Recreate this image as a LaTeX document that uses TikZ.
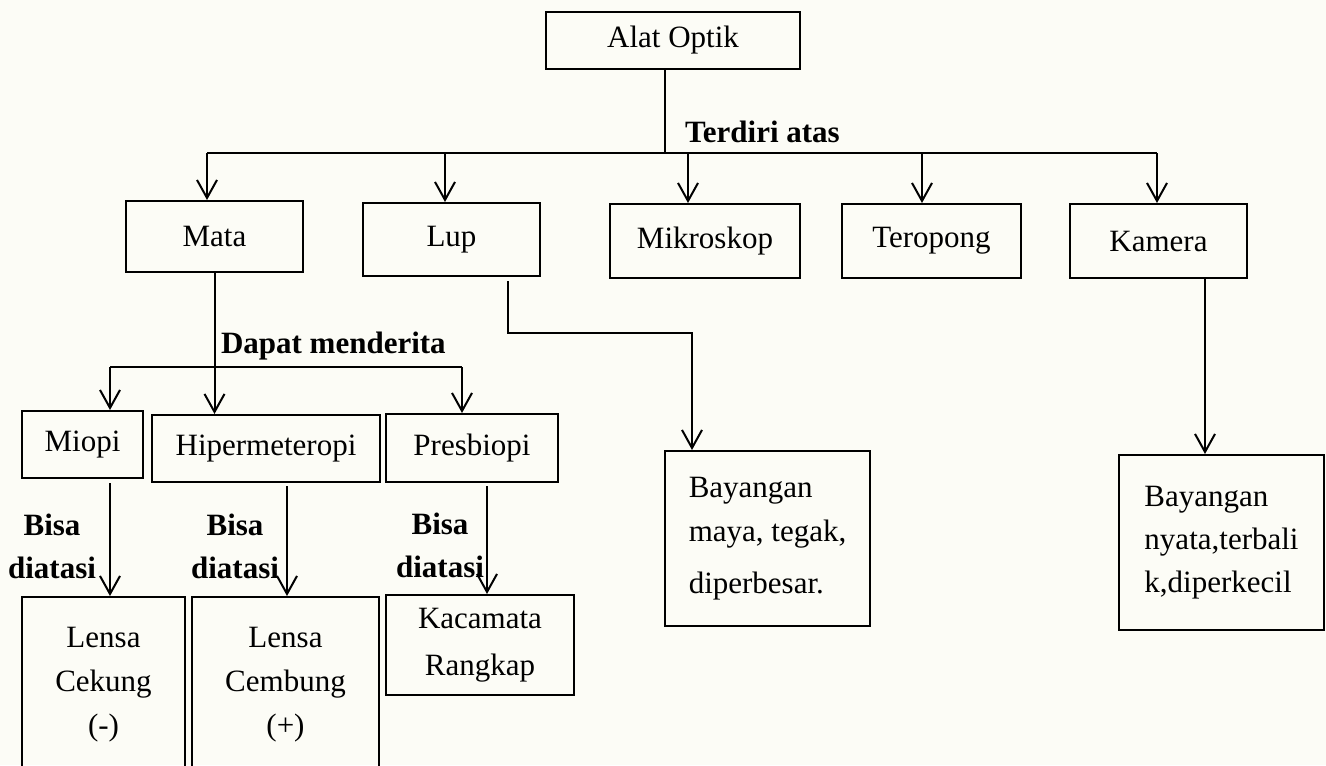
\documentclass[tikz,border=0pt]{standalone}
\usepackage{fontspec}
\setmainfont{Liberation Serif}
\usetikzlibrary{arrows.meta}
\definecolor{paper}{RGB}{252,252,246}

\begin{document}
\begin{tikzpicture}[x=0.5pt,y=-0.5pt,line width=1pt,
    font=\fontsize{15.5}{22}\selectfont,
    box/.style={draw,inner sep=0pt,align=center},
    lbl/.style={font=\fontsize{15.5}{21.5}\selectfont\bfseries,inner sep=0pt,align=center},
    arr/.style={-{Straight Barb[length=9pt,width=10pt]}}]
  \fill[paper] (0,0) rectangle (1326,765);
  \clip (0,0) rectangle (1326,765);

  % alat optik and what it consists of
  \node[box,minimum width=127pt,minimum height=28.5pt] (optik) at (673,40.5) {Alat Optik};
  \node[box,minimum width=88.5pt,minimum height=35.5pt] (mata) at (214.5,236.5) {Mata};
  \node[box,minimum width=88.5pt,minimum height=36.5pt] (lup) at (451.5,239.5) {Lup};
  \node[box,minimum width=95pt,minimum height=37pt] (mikro) at (705,241) {Mikroskop};
  \node[box,minimum width=89.5pt,minimum height=37pt] (teropong) at (931.5,241) {Teropong};
  \node[box,minimum width=88.5pt,minimum height=37pt] (kamera) at (1158.5,241) {Kamera};

  \coordinate (tap) at (665,153);
  \coordinate (busL) at (207,153);
  \coordinate (busR) at (1157,153);
  \draw (optik.south -| tap) -- (tap);
  \draw (busL) -- (busR);
  \foreach \px/\n in {207/mata,445/lup,688/mikro,922/teropong,1157/kamera}{
    \coordinate (to\n) at (\px,153);
    \draw[arr] (to\n) -- (to\n |- \n.north);
  }
  \node[lbl,anchor=base west] (terdiri) at (684,142) {Terdiri atas};

  % mata
  \node[box,minimum width=60.5pt,minimum height=33.5pt] (miopi) at (82.5,444.5) {Miopi};
  \node[box,minimum width=114pt,minimum height=33.5pt] (hiper) at (266,448.5) {Hipermeteropi};
  \node[box,minimum width=86pt,minimum height=34pt] (presbi) at (472,448) {Presbiopi};

  \coordinate (dL) at (110,367);
  \coordinate (dR) at (462,367);
  \draw (dL) -- (dR);
  \draw[arr] (dL) -- (dL |- miopi.north);
  \draw[arr] (dR) -- (dR |- presbi.north);
  \draw[arr] (mata.south) -- (mata.south |- hiper.north);
  \node[lbl,anchor=base west] (dapat) at (220,353) {Dapat menderita};

  \node[box,minimum width=81.5pt,minimum height=88pt] (cekung) at (103.5,685) {Lensa\\Cekung\\(-)};
  \node[box,minimum width=93.5pt,minimum height=88pt] (cembung) at (285.5,685) {Lensa\\Cembung\\(+)};
  \node[box,minimum width=94pt,minimum height=50pt,font=\fontsize{15.5}{23.5}\selectfont] (kacamata) at (480,645) {Kacamata\\Rangkap};

  \coordinate (hipX) at (287,500);
  \coordinate (preX) at (487,500);
  \draw[arr,shorten <=2pt] (dL |- miopi.south) -- (dL |- cekung.north);
  \draw[arr,shorten <=1.5pt] (hipX |- hiper.south) -- (hipX |- cembung.north);
  \draw[arr,shorten <=1.5pt] (preX |- presbi.south) -- (preX |- kacamata.north);
  \node[lbl] (bisa1) at (52,546) {Bisa\\diatasi};
  \node[lbl] (bisa2) at (235,546) {Bisa\\diatasi};
  \node[lbl] (bisa3) at (440,545) {Bisa\\diatasi};

  % lup and kamera
  \node[box,align=left,minimum width=102.5pt,minimum height=87.5pt] (bay1) at (767.5,538.5) {Bayangan\\maya, tegak,\\[4pt]diperbesar.};
  \node[box,align=left,minimum width=102.5pt,minimum height=87.5pt,font=\fontsize{15.5}{21.5}\selectfont] (bay2) at (1221.5,542.5) {Bayangan\\nyata,terbali\\k,diperkecil};

  \coordinate (lupA) at (508,333);
  \coordinate (lupB) at (692,333);
  \draw[arr,shorten <=2pt] (lupA |- lup.south) -- (lupA) -- (lupB) -- (lupB |- bay1.north);
  \coordinate (kamX) at (1205,300);
  \draw[arr] (kamX |- kamera.south) -- (kamX |- bay2.north);
\end{tikzpicture}
\end{document}
